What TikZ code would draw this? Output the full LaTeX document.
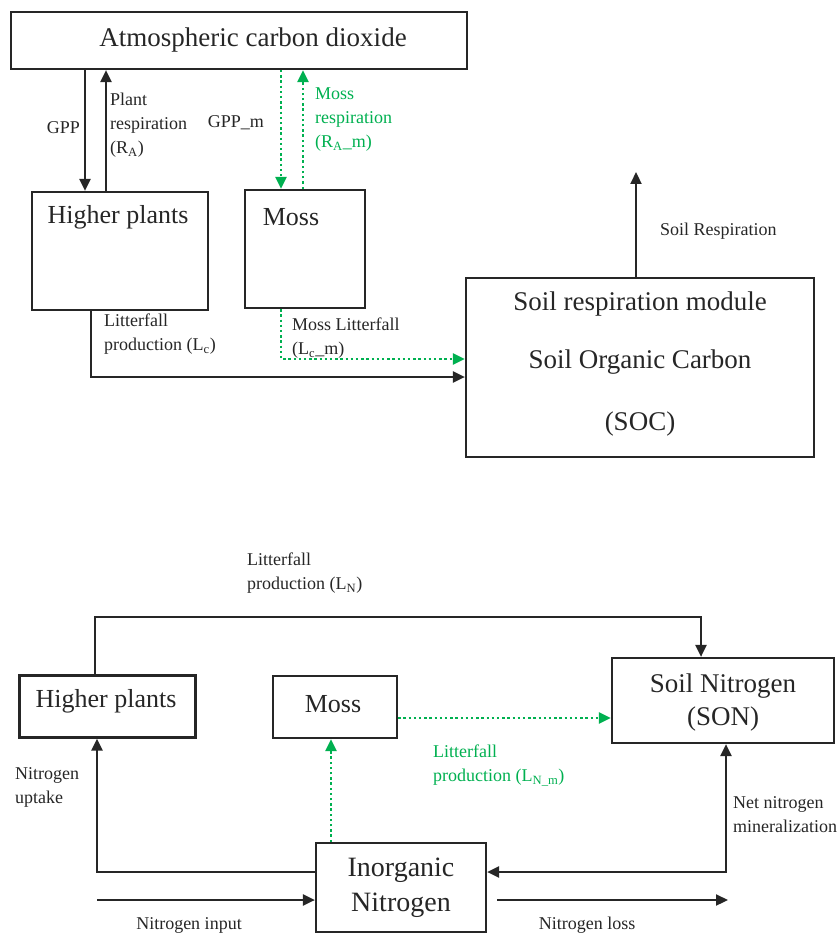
\documentclass[tikz,border=0pt]{standalone}
\usepackage{fontspec}
\setmainfont{LiberationSerif}[Extension=.ttf, UprightFont=*-Regular, BoldFont=*-Bold, ItalicFont=*-Italic]
\usetikzlibrary{arrows.meta}
\definecolor{mossgreen}{RGB}{0,176,80}
\begin{document}
\begin{tikzpicture}[x=1pt,y=-1pt,
  box/.style={draw=black!85, line width=2.2pt, rectangle, inner sep=0pt},
  big/.style={font=\fontsize{26}{31}\selectfont, inner sep=0pt, align=center, text=black!85},
  small/.style={font=\fontsize{18}{24}\selectfont, inner sep=0pt, align=left, text=black!85},
  tip/.style={Triangle[length=12pt,width=11pt]},
  flow/.style={line width=2.2pt, draw=black!85, -{Triangle[length=12pt,width=11pt]}},
  gflow/.style={line width=2.4pt, draw=mossgreen, dash pattern=on 2.4pt off 2.8pt, -{Triangle[length=12pt,width=11pt]}},
  gtxt/.style={small, text=mossgreen}]
\useasboundingbox (0,0) rectangle (836,936);

% ---------- top diagram: carbon ----------
\node[box, minimum width=456pt, minimum height=57pt] (atm) at (239,40.5) {};
\node[big, font=\fontsize{27}{32}\selectfont] (atmtxt) at (253,40) {Atmospheric carbon dioxide};

\node[box, minimum width=176pt, minimum height=118pt] (hp1) at (120,251) {};
\node[big] (hp1txt) at (118,217) {Higher plants};

\node[box, minimum width=120pt, minimum height=118pt] (moss1) at (305,249) {};
\node[big] (moss1txt) at (291,217) {Moss};

\node[box, minimum width=348pt, minimum height=179pt] (soc) at (640,367.5) {};
\node[big, font=\fontsize{27}{32}\selectfont] (soc1) at (640,304) {Soil respiration module};
\node[big, font=\fontsize{27}{32}\selectfont] (soc2) at (640,362) {Soil Organic Carbon};
\node[big, font=\fontsize{27}{32}\selectfont] (soc3) at (640,424) {(SOC)};

% arrows
\draw[flow] (atm.south -| 85,0) -- (hp1.north -| 85,0);
\draw[flow] (hp1.north -| 106,0) -- (atm.south -| 106,0);
\draw[gflow] (atm.south -| 281,0) -- (moss1.north -| 281,0);
\draw[gflow] (moss1.north -| 303,0) -- (atm.south -| 303,0);
\draw[flow] (hp1.south -| 91,0) |- (soc.west |- 0,377);
\draw[gflow] (moss1.south -| 281,0) |- (soc.west |- 0,359);
\coordinate (soilresp) at (636,172);
\draw[flow] (soc.north -| soilresp) -- (soilresp);

% labels
\node[small, anchor=east] (lgpp) at (80,128) {GPP};
\node[small, anchor=north west] (lra) at (110,93) {Plant\\respiration\\(R\textsubscript{A})};
\node[small, anchor=east] (lgppm) at (264,123) {GPP\_m};
\node[gtxt, anchor=north west] (lram) at (315,88) {Moss\\respiration\\(R\textsubscript{A}\_m)};
\node[small, anchor=north west] (llc) at (104,314) {Litterfall\\production (L\textsubscript{c})};
\node[small, anchor=north west] (llcm) at (292,318) {Moss Litterfall\\(L\textsubscript{c}\_m)};
\node[small, anchor=west] (lsr) at (660,231) {Soil Respiration};

% ---------- bottom diagram: nitrogen ----------
\node[box, minimum width=176pt, minimum height=62pt] (hp2) at (107.5,706.5) {};
\node[big] (hp2txt) at (106,701) {Higher plants};

\node[box, minimum width=124pt, minimum height=62pt] (moss2) at (335,707) {};
\node[big] (moss2txt) at (333,704) {Moss};

\node[box, minimum width=222pt, minimum height=85pt] (son) at (723,700.5) {};
\node[big, font=\fontsize{27}{33}\selectfont] (sontxt) at (723,702) {Soil Nitrogen\\(SON)};

\node[box, minimum width=170pt, minimum height=89pt] (inorg) at (401,887.5) {};
\node[big, font=\fontsize{28}{35}\selectfont] (inorgtxt) at (401,888) {Inorganic\\Nitrogen};

\coordinate (lnturn) at (95,617);
\draw[flow] (hp2.north -| lnturn) -- (lnturn) -| (son.north -| 701,0);
\draw[gflow] (moss2.east |- 0,718) -- (son.west |- 0,718);
\draw[gflow] (inorg.north -| 331,0) -- (moss2.south -| 331,0);
\coordinate (upturn) at (97,872);
\draw[flow] (inorg.west |- upturn) -- (upturn) -- (hp2.south -| upturn);
\coordinate (minturn) at (726,872);
\draw[line width=2.2pt, draw=black!85, {Triangle[length=12pt,width=11pt]}-{Triangle[length=12pt,width=11pt]}] (inorg.east |- minturn) -- (minturn) -- (son.south -| minturn);
\coordinate (nin) at (97,900);
\draw[flow] (nin) -- (inorg.west |- nin);
\coordinate (nloss) at (728,900);
\coordinate (nlossstart) at (497,900);
\draw[flow] (nlossstart) -- (nloss);

\node[small, anchor=north west] (lln) at (247,553) {Litterfall\\production (L\textsubscript{N})};
\node[gtxt, anchor=north west] (llnm) at (433,745) {Litterfall\\production (L\textsubscript{N\_m})};
\node[small, anchor=north west] (lup) at (15,767) {Nitrogen\\uptake};
\node[small, anchor=north west] (lmin) at (733,796) {Net nitrogen\\mineralization};
\node[small] (lin) at (189,925) {Nitrogen input};
\node[small] (lloss) at (587,925) {Nitrogen loss};
\end{tikzpicture}
\end{document}
